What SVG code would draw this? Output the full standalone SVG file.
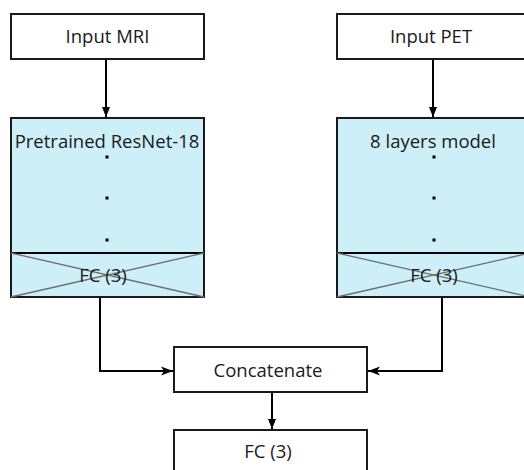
<svg xmlns="http://www.w3.org/2000/svg" width="524" height="470" viewBox="0 0 524 470">
<defs>
<style>
.box{fill:#fff;stroke:#1a1a1a;stroke-width:2}
.blue{fill:#cdeff7;stroke:#1a1a1a;stroke-width:2}
.x{stroke:#6e6e6e;stroke-width:1.3;fill:none}
.t{font-family:"Open Sans","Noto Sans",sans-serif;font-size:18.5px;fill:#1a1a1a;text-anchor:middle;dominant-baseline:central}
.c{stroke:#000;stroke-width:2;fill:none}
.dot{fill:#000}
</style>
<marker id="ad" viewBox="0 0 10 8" refX="10" refY="4" markerWidth="10" markerHeight="8" markerUnits="userSpaceOnUse" orient="auto">
<path d="M0,0 L10,4 L0,8 z" fill="#000"/>
</marker>
<marker id="as" viewBox="0 0 12 10" refX="12" refY="5" markerWidth="12" markerHeight="10" markerUnits="userSpaceOnUse" orient="auto">
<path d="M0,0.5 L12,5 L0,9.5 L3,5 z" fill="#000"/>
</marker>
</defs>
<g id="connectors">
<path class="c" d="M106,59 V117" marker-end="url(#ad)"/>
<path class="c" d="M433,59 V117" marker-end="url(#ad)"/>
<path class="c" d="M100,297 V371 H173" marker-end="url(#as)"/>
<path class="c" d="M442,297 V371 H368" marker-end="url(#as)"/>
<path class="c" d="M272,392 V429" marker-end="url(#ad)"/>
</g>
<g id="input-mri">
<rect class="box" x="11" y="14" width="193" height="45"/>
<text class="t" x="107.5" y="35.5">Input MRI</text>
</g>
<g id="input-pet">
<rect class="box" x="337" y="14" width="193" height="45"/>
<text class="t" x="431" y="35.5">Input PET</text>
</g>
<g id="resnet">
<rect class="blue" x="11" y="118" width="193" height="179"/>
<line class="c" x1="11" y1="253" x2="204" y2="253"/>
<line class="x" x1="11" y1="253" x2="204" y2="297"/>
<line class="x" x1="204" y1="253" x2="11" y2="297"/>
<text class="t" x="107" y="140">Pretrained ResNet-18</text>
<rect class="dot" x="105.5" y="155.5" width="3" height="3"/>
<rect class="dot" x="105.5" y="196.5" width="3" height="3"/>
<rect class="dot" x="105.5" y="238.5" width="3" height="3"/>
<text class="t" x="103" y="274.5">FC (3)</text>
</g>
<g id="eight-layers">
<rect class="blue" x="337" y="118" width="193" height="179"/>
<line class="c" x1="337" y1="253" x2="530" y2="253"/>
<line class="x" x1="337" y1="253" x2="530" y2="297"/>
<line class="x" x1="530" y1="253" x2="337" y2="297"/>
<text class="t" x="433" y="140">8 layers model</text>
<rect class="dot" x="432.5" y="155.5" width="3" height="3"/>
<rect class="dot" x="432.5" y="196.5" width="3" height="3"/>
<rect class="dot" x="432.5" y="238.5" width="3" height="3"/>
<text class="t" x="434" y="274.5">FC (3)</text>
</g>
<g id="concatenate">
<rect class="box" x="174" y="347" width="193" height="45"/>
<text class="t" x="268" y="369.5">Concatenate</text>
</g>
<g id="fc-out">
<rect class="box" x="174" y="430" width="193" height="50"/>
<text class="t" x="268" y="450.5">FC (3)</text>
</g>
</svg>
